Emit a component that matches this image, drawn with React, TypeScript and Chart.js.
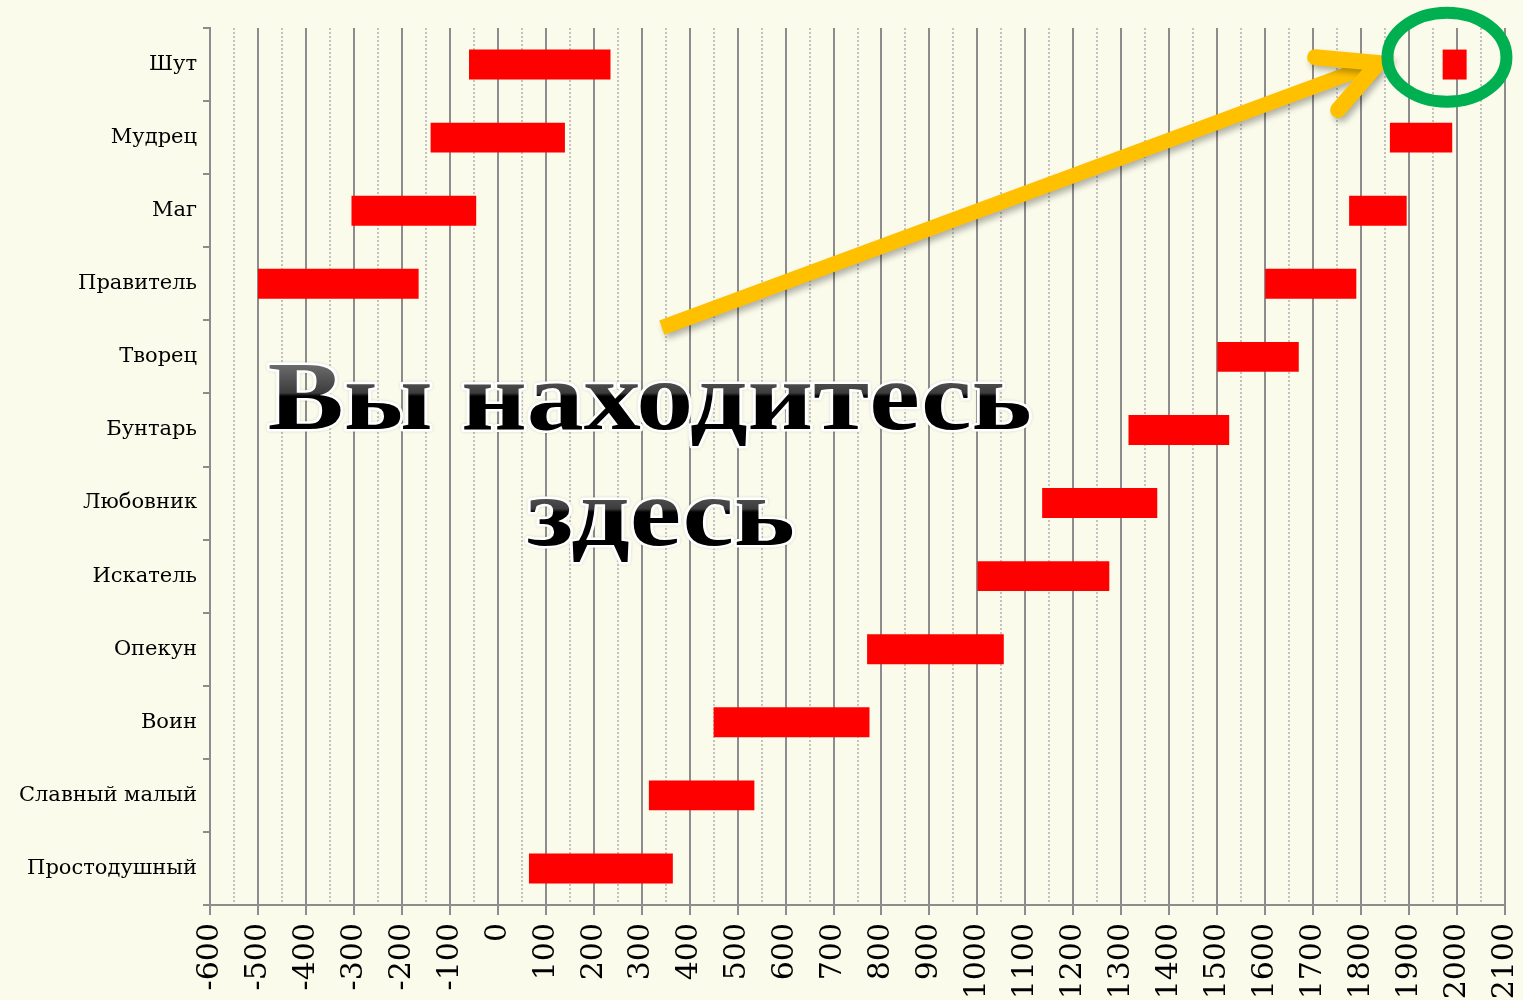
import { useEffect, useRef } from 'react';
import { Chart, registerables } from 'chart.js';

Chart.register(...registerables);

// ---- data ----
const categories = [
  'Шут',
  'Мудрец',
  'Маг',
  'Правитель',
  'Творец',
  'Бунтарь',
  'Любовник',
  'Искатель',
  'Опекун',
  'Воин',
  'Славный малый',
  'Простодушный',
];
const firstStart = [-60, -140, -305, -500, 1500, 1315, 1135, 1000, 770, 450, 315, 65];
const firstEnd = [235, 140, -45, -165, 1670, 1525, 1375, 1275, 1055, 775, 535, 365];
const secondStart = [1970, 1860, 1775, 1600, null, null, null, null, null, null, null, null];
const secondEnd = [2020, 1990, 1895, 1790, null, null, null, null, null, null, null, null];

const xMin = -600;
const xMax = 2100;
const majorStep = 100;
const minorStep = 50;

const noteLines = ['Вы находитесь', 'здесь'];
// annotation anchors in data units (x value, category index)
const noteLine1 = { x: 317, y: 4.99, width: 1593 };
const noteLine2 = { x: 340, y: 6.575, width: 559 };
const arrowStart = { x: 342, y: 3.6 };
const arrowTip = { x: 1836, y: -0.02 };
const arrowArmUpper = { x: 1704, y: -0.1 };
const arrowArmLower = { x: 1752, y: 0.62 };
const ringCenter = { x: 1979, y: -0.1 };
const ringRadius = { x: 124, y: 0.61 };

const BG = '#FBFBEB';

const annotationPlugin = {
  id: 'hereNote',
  afterDraw(chart: any) {
    const { ctx, scales } = chart;
    const xs = scales.x;
    const ys = scales.y;
    const px = (v: number) => xs.getPixelForValue(v);
    const py = (v: number) => ys.getPixelForValue(v);
    const ux = (w: number) => Math.abs(xs.getPixelForValue(w) - xs.getPixelForValue(0));
    const uy = (h: number) => Math.abs(ys.getPixelForValue(h) - ys.getPixelForValue(0));

    // arrow
    ctx.save();
    ctx.strokeStyle = '#FFC000';
    ctx.lineWidth = 15;
    ctx.shadowColor = 'rgba(0,0,0,0.3)';
    ctx.shadowBlur = 6;
    ctx.shadowOffsetX = 3;
    ctx.shadowOffsetY = 4;
    ctx.lineCap = 'butt';
    ctx.beginPath();
    ctx.moveTo(px(arrowStart.x), py(arrowStart.y));
    ctx.lineTo(px(arrowTip.x) - 6, py(arrowTip.y) + 2);
    ctx.stroke();
    ctx.lineCap = 'round';
    ctx.lineJoin = 'miter';
    ctx.lineWidth = 16;
    ctx.beginPath();
    ctx.moveTo(px(arrowArmUpper.x), py(arrowArmUpper.y));
    ctx.lineTo(px(arrowTip.x), py(arrowTip.y));
    ctx.lineTo(px(arrowArmLower.x), py(arrowArmLower.y));
    ctx.stroke();
    ctx.restore();

    // ring
    ctx.save();
    ctx.strokeStyle = '#00B050';
    ctx.lineWidth = 12;
    ctx.beginPath();
    ctx.ellipse(px(ringCenter.x), py(ringCenter.y), ux(ringRadius.x), uy(ringRadius.y), 0, 0, Math.PI * 2);
    ctx.stroke();
    ctx.restore();

    // text
    const drawLine = (text: string, pos: { x: number; y: number; width: number }) => {
      const size = 97;
      ctx.save();
      ctx.font = `bold ${size}px "Liberation Serif", serif`;
      const w = ctx.measureText(text).width;
      ctx.translate(px(pos.x), py(pos.y));
      ctx.scale(ux(pos.width) / w, 1);
      ctx.textAlign = 'center';
      ctx.textBaseline = 'alphabetic';
      ctx.lineJoin = 'round';
      ctx.shadowColor = 'rgba(0,0,0,0.15)';
      ctx.shadowBlur = 3;
      ctx.strokeStyle = '#ffffff';
      ctx.lineWidth = 5;
      ctx.strokeText(text, 0, 0);
      ctx.shadowColor = 'transparent';
      const g = ctx.createLinearGradient(0, -size * 0.68, 0, 0);
      g.addColorStop(0, '#6e6e6e');
      g.addColorStop(0.45, '#3c3c3c');
      g.addColorStop(0.5, '#000000');
      g.addColorStop(1, '#000000');
      ctx.fillStyle = g;
      ctx.fillText(text, 0, 0);
      ctx.restore();
    };
    drawLine(noteLines[0], noteLine1);
    drawLine(noteLines[1], noteLine2);
  },
};

export default function App() {
  const ref = useRef<HTMLCanvasElement | null>(null);

  useEffect(() => {
    document.body.style.margin = '0';
    document.body.style.background = BG;
    if (!ref.current) return;
    const chart = new Chart(ref.current, {
      type: 'bar',
      data: {
        labels: categories,
        datasets: [
          {
            label: 'Период 1',
            data: firstStart.map((s, i) => [s, firstEnd[i]]) as any,
            backgroundColor: '#FF0000',
            borderWidth: 0,
            grouped: false,
            barPercentage: 0.41,
            categoryPercentage: 1,
            xAxisID: 'x',
          } as any,
          {
            label: 'Период 2',
            data: secondStart.map((s, i) => (s === null ? null : [s, secondEnd[i]])) as any,
            backgroundColor: '#FF0000',
            borderWidth: 0,
            grouped: false,
            barPercentage: 0.41,
            categoryPercentage: 1,
            xAxisID: 'x',
          } as any,
        ],
      },
      options: {
        indexAxis: 'y',
        animation: false,
        responsive: true,
        maintainAspectRatio: false,
        layout: { padding: { top: 28, right: 18, left: 0, bottom: 0 } },
        plugins: {
          legend: { display: false },
          tooltip: { enabled: false },
        },
        scales: {
          x2: {
            type: 'linear',
            position: 'bottom',
            min: xMin,
            max: xMax,
            afterFit: (s: any) => {
              s.height = 0;
              s.paddingLeft = 0;
              s.paddingRight = 0;
            },
            ticks: { display: false, stepSize: minorStep },
            grid: {
              drawTicks: false,
              lineWidth: 2,
              color: (c: any) =>
                c.tick && Math.abs(c.tick.value % majorStep) !== 0 ? '#c2c2c2' : 'rgba(0,0,0,0)',
            },
            border: { display: false, dash: [2, 2] },
          },
          x: {
            type: 'linear',
            position: 'bottom',
            min: xMin,
            max: xMax,
            afterFit: (s: any) => {
              s.height = 95;
              s.paddingLeft = 0;
              s.paddingRight = 0;
            },
            ticks: {
              stepSize: majorStep,
              autoSkip: false,
              minRotation: 90,
              maxRotation: 90,
              padding: 8,
              color: '#000',
              font: { family: '"DejaVu Serif", serif', size: 30 },
              callback: (v: any) => String(v),
            },
            grid: { color: '#8c8c8c', lineWidth: 2, tickLength: 10, tickColor: '#8c8c8c' },
            border: { color: '#8c8c8c', width: 2 },
          },
          y: {
            type: 'category',
            offset: true,
            afterFit: (s: any) => {
              s.width = 210;
            },
            ticks: {
              color: '#000',
              padding: 6,
              font: { family: '"DejaVu Serif", serif', size: 21 },
            },
            grid: {
              offset: true,
              drawOnChartArea: false,
              color: '#8c8c8c',
              lineWidth: 2,
              tickLength: 7,
            },
            border: { color: '#8c8c8c', width: 2 },
          },
        },
      } as any,
      plugins: [annotationPlugin],
    });
    return () => chart.destroy();
  }, []);

  return (
    <div style={{ width: 1523, height: 1000, background: BG, position: 'relative', overflow: 'hidden' }}>
      <canvas ref={ref} />
    </div>
  );
}
